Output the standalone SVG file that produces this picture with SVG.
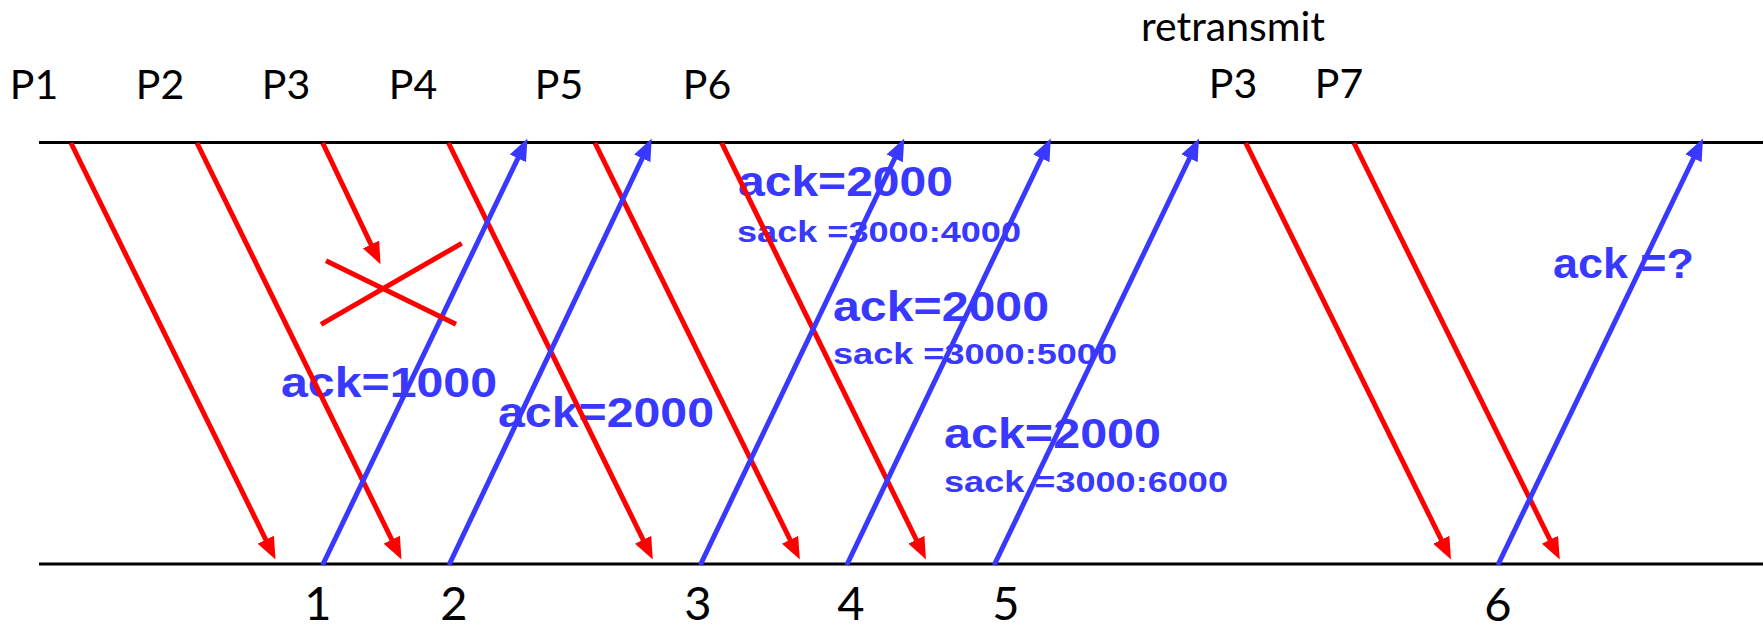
<svg xmlns="http://www.w3.org/2000/svg" width="1763" height="631" viewBox="0 0 1763 631">
  <style>
    .axis { stroke: #000; stroke-width: 3; fill: none; }
    .pkt { stroke: #ff0000; stroke-width: 5; fill: none; marker-end: url(#arrRed); }
    .ack { stroke: #3838ff; stroke-width: 5; fill: none; marker-end: url(#arrBlue); }
    .cross { stroke: #ff0000; stroke-width: 5; fill: none; }
    .lbl { font-family: Lato, "Liberation Sans", sans-serif; font-size: 41px; fill: #000; text-anchor: middle; }
    .num { font-family: Lato, "Liberation Sans", sans-serif; font-size: 47px; fill: #000; text-anchor: middle; }
    .ackt { font-family: "Liberation Sans", Arial, sans-serif; font-weight: bold; font-size: 43px; fill: #3838ff; }
    .sackt { font-family: "Liberation Sans", Arial, sans-serif; font-weight: bold; font-size: 30px; fill: #3838ff; }
  </style>
  <defs>
    <marker id="arrRed" markerUnits="userSpaceOnUse" markerWidth="22" markerHeight="18" refX="12" refY="9" orient="auto">
      <path d="M0,0 L22,9 L0,18 z" fill="#ff0000"/>
    </marker>
    <marker id="arrBlue" markerUnits="userSpaceOnUse" markerWidth="22" markerHeight="18" refX="12" refY="9" orient="auto">
      <path d="M0,0 L22,9 L0,18 z" fill="#3838ff"/>
    </marker>
  </defs>
  <rect width="1763" height="631" fill="#fff"/>

  <g id="sender-line"><line class="axis" x1="39" y1="142.5" x2="1763" y2="142.5"/></g>
  <g id="receiver-line"><line class="axis" x1="39" y1="564" x2="1763" y2="564"/></g>

  <g id="packet-labels">
    <text class="lbl" x="34" y="99">P1</text>
    <text class="lbl" x="160" y="99">P2</text>
    <text class="lbl" x="286" y="99">P3</text>
    <text class="lbl" x="413" y="99">P4</text>
    <text class="lbl" x="559" y="99">P5</text>
    <text class="lbl" x="707" y="99">P6</text>
    <text class="lbl" x="1233" y="41">retransmit</text>
    <text class="lbl" x="1233" y="98">P3</text>
    <text class="lbl" x="1339" y="98">P7</text>
  </g>

  <g id="ack-numbers">
    <text class="num" x="318" y="620">1</text>
    <text class="num" x="454" y="620">2</text>
    <text class="num" x="698" y="620">3</text>
    <text class="num" x="851" y="620">4</text>
    <text class="num" x="1006" y="620">5</text>
    <text class="num" x="1498" y="621">6</text>
  </g>

  <g id="ack-labels">
    <text class="ackt" x="281" y="397" textLength="216" lengthAdjust="spacingAndGlyphs">ack=1000</text>
    <text class="ackt" x="498" y="427" textLength="216" lengthAdjust="spacingAndGlyphs">ack=2000</text>
    <text class="ackt" x="738" y="196" textLength="215" lengthAdjust="spacingAndGlyphs">ack=2000</text>
    <text class="sackt" x="737" y="242" textLength="284" lengthAdjust="spacingAndGlyphs">sack =3000:4000</text>
    <text class="ackt" x="833" y="321" textLength="216" lengthAdjust="spacingAndGlyphs">ack=2000</text>
    <text class="sackt" x="833" y="364" textLength="284" lengthAdjust="spacingAndGlyphs">sack =3000:5000</text>
    <text class="ackt" x="944" y="448" textLength="217" lengthAdjust="spacingAndGlyphs">ack=2000</text>
    <text class="sackt" x="944" y="492" textLength="284" lengthAdjust="spacingAndGlyphs">sack =3000:6000</text>
    <text class="ackt" x="1553" y="278" textLength="141" lengthAdjust="spacingAndGlyphs">ack =?</text>
  </g>

  <g id="connectors">
    <line class="pkt" x1="71" y1="143" x2="271.1" y2="550.5"/>
    <line class="pkt" x1="197" y1="143" x2="397.1" y2="550.5"/>
    <line class="pkt" x1="322.7" y1="143" x2="376.2" y2="255.3"/>
    <line class="pkt" x1="448.5" y1="143" x2="648.4" y2="550.5"/>
    <line class="pkt" x1="595" y1="143" x2="795.4" y2="550.5"/>
    <line class="pkt" x1="721.7" y1="143" x2="921.6" y2="550.5"/>
    <line class="pkt" x1="1245.8" y1="143" x2="1446.6" y2="550.5"/>
    <line class="pkt" x1="1354" y1="143" x2="1555.3" y2="550.5"/>

    <line class="ack" x1="322.6" y1="565" x2="523.1" y2="147.5"/>
    <line class="ack" x1="449" y1="565" x2="647.4" y2="147.5"/>
    <line class="ack" x1="700.3" y1="565" x2="899.9" y2="147.5"/>
    <line class="ack" x1="846.8" y1="565" x2="1046.5" y2="147.5"/>
    <line class="ack" x1="994.2" y1="565" x2="1194.7" y2="147.5"/>
    <line class="ack" x1="1497.9" y1="565" x2="1698.7" y2="147.5"/>
  </g>

  <g id="loss-mark">
    <line class="cross" x1="326" y1="260.7" x2="456" y2="324.3"/>
    <line class="cross" x1="321" y1="324.3" x2="461.7" y2="243.3"/>
  </g>
</svg>
